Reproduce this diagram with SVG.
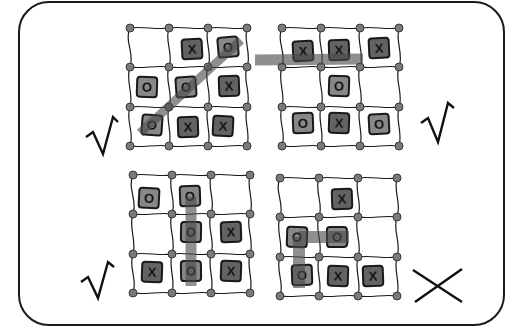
<svg xmlns="http://www.w3.org/2000/svg" xmlns:xlink="http://www.w3.org/1999/xlink" width="513" height="328" viewBox="0 0 513 328">
<style>
.frame{fill:#fff;stroke:#1a1a1a;stroke-width:2}
.gl{fill:none;stroke:#1a1a1a;stroke-width:1.2}
.dot{fill:#7a7a7a;stroke:#3a3a3a;stroke-width:1}
.tx rect{fill:#636363;stroke:#1a1a1a;stroke-width:2}
.to rect{fill:#888;stroke:#1a1a1a;stroke-width:2}
.tile text{font-family:"Liberation Sans",Arial,sans-serif;font-weight:bold;font-size:13px;fill:#151515;text-anchor:middle}
.bar{fill:none;stroke:#4a4a4a;stroke-opacity:0.62;stroke-linecap:butt}
.mark{fill:none;stroke:#111;stroke-width:2.4;stroke-linejoin:miter}
</style>
<defs>
<g id="grid">
<path class="gl" d="M0 0C13 -2 26 2 39 0C52 -2 65 2 78 0C91 -2 104 2 117 0"/>
<path class="gl" d="M0 39C13 41 26 37 39 39C52 41 65 37 78 39C91 41 104 37 117 39"/>
<path class="gl" d="M0 79C13 77 26 81 39 79C52 77 65 81 78 79C91 77 104 81 117 79"/>
<path class="gl" d="M0 118C13 120 26 116 39 118C52 120 65 116 78 118C91 120 104 116 117 118"/>
<path class="gl" d="M0 0C-6 13 5 26 0 39C-5 52 4 66 0 79C-5 92 5 105 0 118"/>
<path class="gl" d="M39 0C34 13 44 26 39 39C34 52 44 66 39 79C35 92 43 105 39 118"/>
<path class="gl" d="M78 0C74 13 83 26 78 39C73 52 83 66 78 79C74 92 82 105 78 118"/>
<path class="gl" d="M117 0C113 13 122 26 117 39C112 52 122 66 117 79C113 92 121 105 117 118"/>
<circle class="dot" cx="0" cy="0" r="4"/><circle class="dot" cx="39" cy="0" r="4"/><circle class="dot" cx="78" cy="0" r="4"/><circle class="dot" cx="117" cy="0" r="4"/>
<circle class="dot" cx="0" cy="39" r="4"/><circle class="dot" cx="39" cy="39" r="4"/><circle class="dot" cx="78" cy="39" r="4"/><circle class="dot" cx="117" cy="39" r="4"/>
<circle class="dot" cx="0" cy="79" r="4"/><circle class="dot" cx="39" cy="79" r="4"/><circle class="dot" cx="78" cy="79" r="4"/><circle class="dot" cx="117" cy="79" r="4"/>
<circle class="dot" cx="0" cy="118" r="4"/><circle class="dot" cx="39" cy="118" r="4"/><circle class="dot" cx="78" cy="118" r="4"/><circle class="dot" cx="117" cy="118" r="4"/>
</g>
</defs>
<rect class="frame" x="19" y="2" width="485" height="323" rx="30"/>

<g id="board1">
<use xlink:href="#grid" href="#grid" transform="translate(130,28)"/>
<g class="tile tx" transform="translate(192,49) rotate(-3)"><rect x="-10" y="-10" width="20" height="20" rx="3"/><text y="4.7">X</text></g>
<g class="tile to" transform="translate(228,47) rotate(-5)"><rect x="-10" y="-10" width="20" height="20" rx="3"/><text y="4.7">O</text></g>
<g class="tile to" transform="translate(147,87) rotate(2)"><rect x="-10" y="-10" width="20" height="20" rx="3"/><text y="4.7">O</text></g>
<g class="tile to" transform="translate(186,87) rotate(-4)"><rect x="-10" y="-10" width="20" height="20" rx="3"/><text y="4.7">O</text></g>
<g class="tile tx" transform="translate(229,86) rotate(-2)"><rect x="-10" y="-10" width="20" height="20" rx="3"/><text y="4.7">X</text></g>
<g class="tile to" transform="translate(152,125) rotate(4)"><rect x="-10" y="-10" width="20" height="20" rx="3"/><text y="4.7">O</text></g>
<g class="tile tx" transform="translate(188,127) rotate(-2)"><rect x="-10" y="-10" width="20" height="20" rx="3"/><text y="4.7">X</text></g>
<g class="tile tx" transform="translate(223,126) rotate(3)"><rect x="-10" y="-10" width="20" height="20" rx="3"/><text y="4.7">X</text></g>
<path class="bar" stroke-width="9" d="M140 133L241 40"/>
<path class="mark" d="M86 137L93 132L103 154L113 117L118 122"/>
</g>

<g id="board2">
<use xlink:href="#grid" href="#grid" transform="translate(282,28)"/>
<g class="tile tx" transform="translate(303,51) rotate(-3)"><rect x="-10" y="-10" width="20" height="20" rx="3"/><text y="4.7">X</text></g>
<g class="tile tx" transform="translate(339,50) rotate(-2)"><rect x="-10" y="-10" width="20" height="20" rx="3"/><text y="4.7">X</text></g>
<g class="tile tx" transform="translate(379,48) rotate(-3)"><rect x="-10" y="-10" width="20" height="20" rx="3"/><text y="4.7">X</text></g>
<g class="tile to" transform="translate(339,86) rotate(2)"><rect x="-10" y="-10" width="20" height="20" rx="3"/><text y="4.7">O</text></g>
<g class="tile to" transform="translate(303,123) rotate(-2)"><rect x="-10" y="-10" width="20" height="20" rx="3"/><text y="4.7">O</text></g>
<g class="tile tx" transform="translate(339,123) rotate(2)"><rect x="-10" y="-10" width="20" height="20" rx="3"/><text y="4.7">X</text></g>
<g class="tile to" transform="translate(379,124) rotate(-3)"><rect x="-10" y="-10" width="20" height="20" rx="3"/><text y="4.7">O</text></g>
<path class="bar" stroke-width="11" d="M255 60L363 59"/>
<path class="mark" d="M421 123L428 118L438 142L448 103L454 108"/>
</g>

<g id="board3">
<use xlink:href="#grid" href="#grid" transform="translate(133,175)"/>
<g class="tile to" transform="translate(149,198) rotate(3)"><rect x="-10" y="-10" width="20" height="20" rx="3"/><text y="4.7">O</text></g>
<g class="tile to" transform="translate(190,196) rotate(-2)"><rect x="-10" y="-10" width="20" height="20" rx="3"/><text y="4.7">O</text></g>
<g class="tile to" transform="translate(191,232) rotate(1)"><rect x="-10" y="-10" width="20" height="20" rx="3"/><text y="4.7">O</text></g>
<g class="tile tx" transform="translate(231,232) rotate(-2)"><rect x="-10" y="-10" width="20" height="20" rx="3"/><text y="4.7">X</text></g>
<g class="tile tx" transform="translate(152,272) rotate(2)"><rect x="-10" y="-10" width="20" height="20" rx="3"/><text y="4.7">X</text></g>
<g class="tile to" transform="translate(191,271) rotate(-1)"><rect x="-10" y="-10" width="20" height="20" rx="3"/><text y="4.7">O</text></g>
<g class="tile tx" transform="translate(231,271) rotate(2)"><rect x="-10" y="-10" width="20" height="20" rx="3"/><text y="4.7">X</text></g>
<path class="bar" stroke-width="11" d="M191 197L191 286"/>
<path class="mark" d="M81 282L88 277L98 298L108 262L114 267"/>
</g>

<g id="board4">
<use xlink:href="#grid" href="#grid" transform="translate(280,178)"/>
<g class="tile tx" transform="translate(342,199) rotate(-2)"><rect x="-10" y="-10" width="20" height="20" rx="3"/><text y="4.7">X</text></g>
<g class="tile to" transform="translate(297,237) rotate(2)"><rect x="-10" y="-10" width="20" height="20" rx="3"/><text y="4.7">O</text></g>
<g class="tile to" transform="translate(337,237) rotate(-1)"><rect x="-10" y="-10" width="20" height="20" rx="3"/><text y="4.7">O</text></g>
<g class="tile to" transform="translate(302,275) rotate(-2)"><rect x="-10" y="-10" width="20" height="20" rx="3"/><text y="4.7">O</text></g>
<g class="tile tx" transform="translate(338,276) rotate(2)"><rect x="-10" y="-10" width="20" height="20" rx="3"/><text y="4.7">X</text></g>
<g class="tile tx" transform="translate(373,276) rotate(-2)"><rect x="-10" y="-10" width="20" height="20" rx="3"/><text y="4.7">X</text></g>
<path class="bar" stroke-width="12" d="M299 237L349 237M299 237L299 288"/>
<path class="mark" d="M413 270L462 302M415 302L462 269"/>
</g>
</svg>
